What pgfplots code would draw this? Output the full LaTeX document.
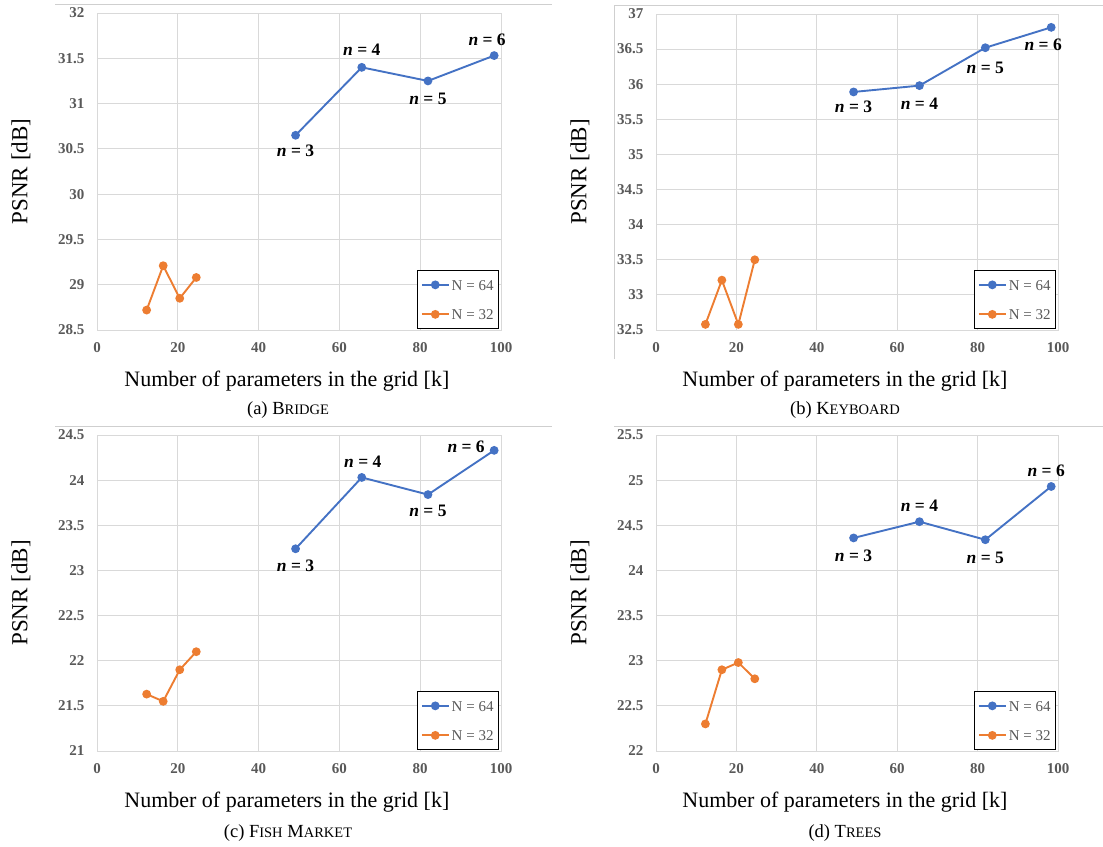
\documentclass[border=0pt]{standalone}
\usepackage{fontspec}
\setmainfont{Liberation Serif}
\usepackage{pgfplots}
\pgfplotsset{compat=1.18}
\definecolor{gridgray}{HTML}{D9D9D9}
\definecolor{ticgray}{HTML}{595959}
\definecolor{xblue}{HTML}{4472C4}
\definecolor{xorange}{HTML}{ED7D31}
\definecolor{framegray}{HTML}{CFCFCF}
\newcommand{\fsc}[2]{#1{\fontsize{14.5}{17}\selectfont #2}}
\tikzset{nl/.style={font=\fontsize{17.5}{20}\selectfont\bfseries, text=black, inner sep=0pt, anchor=center}}
\pgfplotsset{
  panel/.style={
    scale only axis, clip=false,
    xmin=0, xmax=100, xtick={0,20,40,60,80,100},
    grid=major, major grid style={draw=gridgray, line width=0.9pt},
    axis line style={draw=gridgray, line width=0.9pt},
    major tick length=0pt,
    /pgf/number format/assume math mode=true,
    tick label style={font=\fontsize{15}{18}\selectfont\bfseries, text=ticgray},
    yticklabel style={xshift=-9pt},
    xticklabel style={yshift=-9pt},
    xlabel={Number of parameters in the grid [k]},
    ylabel={PSNR [dB]},
    every axis x label/.style={at={(axis description cs:0.47,0)}, anchor=center, yshift=-51pt, font=\fontsize{22}{26}\selectfont},
    every axis y label/.style={at={(axis description cs:0,0.5)}, anchor=center, rotate=90, yshift=76pt, font=\fontsize{23}{27}\selectfont},
    legend style={at={(rel axis cs:0.995,0.003)}, anchor=south east, draw=black, line width=0.9pt, fill=white,
      font=\fontsize{15}{18}\selectfont, text=ticgray, inner xsep=3pt, inner ysep=9pt, row sep=19pt,
      nodes={inner sep=0pt, inner xsep=2pt, text height=10.5pt, text depth=0pt}},
    legend cell align=left,
    legend image code/.code={\draw[mark repeat=2,mark phase=2,#1] plot coordinates {(0pt,0pt) (13.5pt,0pt) (27pt,0pt)};},
  },
  s64/.style={color=xblue, line width=1.9pt, mark=*, mark size=3.4pt, mark options={solid}},
  s32/.style={color=xorange, line width=1.9pt, mark=*, mark size=3.4pt, mark options={solid}},
}
\begin{document}
\begin{tikzpicture}
\useasboundingbox (0pt,0pt) rectangle (1103pt,-846pt);
\draw[framegray, line width=0.8pt] (55pt,-4pt) -- (552pt,-4pt);
\draw[framegray, line width=0.8pt] (614pt,-359pt) -- (614pt,-5pt) -- (1103pt,-5pt);
\draw[framegray, line width=0.8pt] (55pt,-426pt) -- (552pt,-426pt);
\draw[framegray, line width=0.8pt] (614pt,-426pt) -- (1103pt,-426pt);

% (a) Bridge
\begin{axis}[panel, at={(97pt,-330pt)}, anchor=south west, width=404pt, height=317pt,
  ymin=28.5, ymax=32, ytick={28.5,29,29.5,30,30.5,31,31.5,32}]
\addplot[s64] coordinates {(49.152,30.65) (65.536,31.40) (81.92,31.25) (98.304,31.53)};
\addlegendentry{N = 64}
\addplot[s32] coordinates {(12.288,28.72) (16.384,29.21) (20.48,28.85) (24.576,29.08)};
\addlegendentry{N = 32}
\node[nl, yshift=-16pt] at (axis cs:49.152,30.65) {\textit{n} = 3};
\node[nl, yshift=18pt] at (axis cs:65.536,31.40) {\textit{n} = 4};
\node[nl, yshift=-18pt] at (axis cs:81.92,31.25) {\textit{n} = 5};
\node[nl, xshift=-7pt, yshift=16pt] at (axis cs:98.304,31.53) {\textit{n} = 6};
\end{axis}

% (b) Keyboard
\begin{axis}[panel, at={(656pt,-330pt)}, anchor=south west, width=402pt, height=316pt,
  ymin=32.5, ymax=37, ytick={32.5,33,33.5,34,34.5,35,35.5,36,36.5,37}]
\addplot[s64] coordinates {(49.152,35.89) (65.536,35.98) (81.92,36.52) (98.304,36.81)};
\addlegendentry{N = 64}
\addplot[s32] coordinates {(12.288,32.58) (16.384,33.21) (20.48,32.58) (24.576,33.50)};
\addlegendentry{N = 32}
\node[nl, yshift=-15pt] at (axis cs:49.152,35.89) {\textit{n} = 3};
\node[nl, yshift=-18pt] at (axis cs:65.536,35.98) {\textit{n} = 4};
\node[nl, yshift=-20pt] at (axis cs:81.92,36.52) {\textit{n} = 5};
\node[nl, xshift=-8pt, yshift=-17pt] at (axis cs:98.304,36.81) {\textit{n} = 6};
\end{axis}

% (c) Fish Market
\begin{axis}[panel, at={(97pt,-751pt)}, anchor=south west, width=404pt, height=316pt,
  ymin=21, ymax=24.5, ytick={21,21.5,22,22.5,23,23.5,24,24.5}]
\addplot[s64] coordinates {(49.152,23.24) (65.536,24.03) (81.92,23.84) (98.304,24.33)};
\addlegendentry{N = 64}
\addplot[s32] coordinates {(12.288,21.63) (16.384,21.55) (20.48,21.90) (24.576,22.10)};
\addlegendentry{N = 32}
\node[nl, yshift=-17pt] at (axis cs:49.152,23.24) {\textit{n} = 3};
\node[nl, xshift=1pt, yshift=16pt] at (axis cs:65.536,24.03) {\textit{n} = 4};
\node[nl, yshift=-16pt] at (axis cs:81.92,23.84) {\textit{n} = 5};
\node[nl, xshift=-28pt, yshift=4pt] at (axis cs:98.304,24.33) {\textit{n} = 6};
\end{axis}

% (d) Trees
\begin{axis}[panel, at={(656pt,-751pt)}, anchor=south west, width=402pt, height=316pt,
  ymin=22, ymax=25.5, ytick={22,22.5,23,23.5,24,24.5,25,25.5}]
\addplot[s64] coordinates {(49.152,24.36) (65.536,24.54) (81.92,24.34) (98.304,24.93)};
\addlegendentry{N = 64}
\addplot[s32] coordinates {(12.288,22.30) (16.384,22.90) (20.48,22.98) (24.576,22.80)};
\addlegendentry{N = 32}
\node[nl, yshift=-18pt] at (axis cs:49.152,24.36) {\textit{n} = 3};
\node[nl, yshift=16pt] at (axis cs:65.536,24.54) {\textit{n} = 4};
\node[nl, yshift=-18pt] at (axis cs:81.92,24.34) {\textit{n} = 5};
\node[nl, xshift=-5pt, yshift=16pt] at (axis cs:98.304,24.93) {\textit{n} = 6};
\end{axis}

% captions
\node[font=\fontsize{18.5}{22}\selectfont] at (288pt,-410pt) {(a) \fsc{B}{RIDGE}};
\node[font=\fontsize{18.5}{22}\selectfont] at (845pt,-410pt) {(b) \fsc{K}{EYBOARD}};
\node[font=\fontsize{18.5}{22}\selectfont] at (288pt,-833pt) {(c) \fsc{F}{ISH} \fsc{M}{ARKET}};
\node[font=\fontsize{18.5}{22}\selectfont] at (845pt,-833pt) {(d) \fsc{T}{REES}};
\end{tikzpicture}
\end{document}
